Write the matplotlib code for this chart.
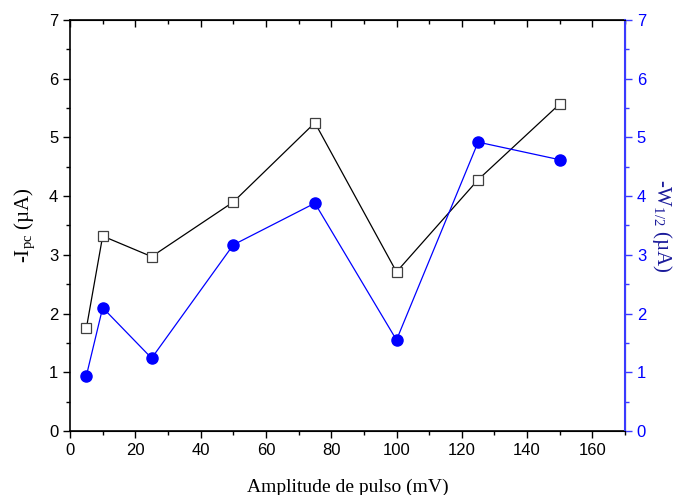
import matplotlib.pyplot as plt
from matplotlib.ticker import MultipleLocator

# pulse amplitude (mV)
amplitude = [5, 10, 25, 50, 75, 100, 125, 150]
# -Ipc (uA), left axis
ipc = [1.75, 3.32, 2.97, 3.90, 5.25, 2.71, 4.28, 5.57]
# -W1/2 (uA), right axis
w_half = [0.94, 2.10, 1.24, 3.17, 3.88, 1.55, 4.92, 4.62]

blue = '#0000ff'
axis_blue = '#3a3aff'

plt.rcParams['font.family'] = ['Liberation Sans', 'DejaVu Sans']
plt.rcParams['mathtext.fontset'] = 'custom'
plt.rcParams['mathtext.rm'] = 'Liberation Serif'

fig = plt.figure(figsize=(6.76, 4.95), dpi=100)
ax = fig.add_axes([0.1036, 0.1293, 0.8210, 0.8303])
ax2 = ax.twinx()

ax.plot(amplitude, ipc, color='black', lw=0.9, marker='s', ms=6.5,
        mfc='white', mec='#404040', mew=0.9, zorder=3)
ax2.plot(amplitude, w_half, color=blue, lw=0.9, marker='o', ms=8,
         mfc=blue, mec=blue, zorder=3)

ax.set_xlim(0, 170)
ax.set_ylim(0, 7)
ax2.set_ylim(0, 7)

ax.xaxis.set_major_locator(MultipleLocator(20))
ax.xaxis.set_minor_locator(MultipleLocator(10))
ax.yaxis.set_major_locator(MultipleLocator(1))
ax.yaxis.set_minor_locator(MultipleLocator(0.5))
ax2.yaxis.set_major_locator(MultipleLocator(1))
ax2.yaxis.set_minor_locator(MultipleLocator(0.5))

ax.tick_params(axis='x', which='both', direction='out', top=True, labelsize=12)
ax.tick_params(axis='y', which='both', direction='out', right=False, labelsize=12)
ax.tick_params(which='major', length=5, width=1)
ax.tick_params(which='minor', length=3, width=1)
ax2.tick_params(axis='y', which='both', direction='out', colors=axis_blue,
                labelcolor=blue, labelsize=12)
ax2.tick_params(which='major', length=5, width=1)
ax2.tick_params(which='minor', length=3, width=1)

# top ticks pointing inward
for t in ax.xaxis.get_major_ticks() + ax.xaxis.get_minor_ticks():
    t.tick2line.set_marker(3)

for sp in ['left', 'bottom', 'top']:
    ax.spines[sp].set_color('black')
    ax.spines[sp].set_linewidth(1.2)
ax2.spines['right'].set_color(axis_blue)
ax2.spines['right'].set_linewidth(1.5)
ax2.spines['left'].set_visible(False)

serif = ['Liberation Serif', 'DejaVu Serif']
ax.set_xlabel('Amplitude de pulso (mV)', fontsize=14, family=serif, labelpad=15)
ax.set_ylabel(r'-I$_{\rm pc}$ (µA)', fontsize=15, family=serif, labelpad=8)
ax2.set_ylabel(r'-W$_{\rm 1/2}$ (µA)', fontsize=15, family=serif, color='#1a1a9a',
               rotation=-90, labelpad=20)

fig.savefig('out.png', dpi=100)
